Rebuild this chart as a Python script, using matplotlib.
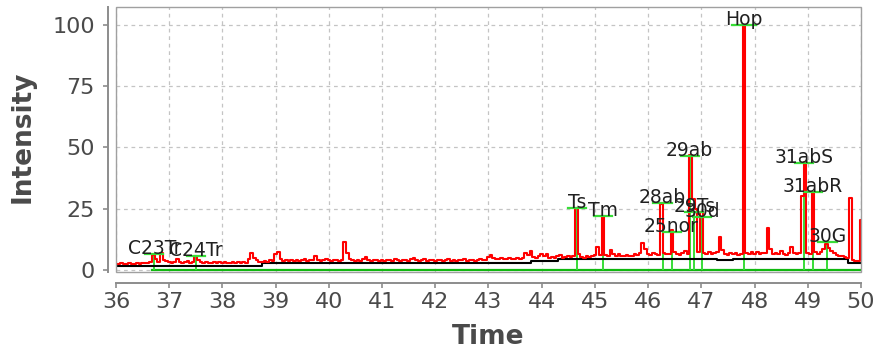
"""Chromatogram (m/z 191 style) with labelled biomarker peaks."""

import numpy as np
import matplotlib.pyplot as plt
from matplotlib.patches import Rectangle

# signal sampled every 0.05 min from 36.00 to 50.00
t_start, t_step = 36.0, 0.05
signal = [
    # 36.00 - 36.95
    2.6, 2.6, 3.0, 2.6, 2.6, 3.0, 2.6, 2.6, 3.0, 2.6, 2.8, 3.0, 2.8, 3.4, 6.2, 4.5, 3.2, 6.8, 4.0, 3.6,
    # 37.00 - 37.95
    3.4, 3.0, 3.2, 4.5, 3.4, 3.0, 3.2, 3.6, 3.0, 3.4, 5.8, 4.0, 3.2, 3.0, 3.4, 3.0, 3.0, 3.2, 3.0, 3.4,
    # 38.00 - 38.95
    3.0, 3.2, 3.0, 3.0, 3.4, 3.0, 3.2, 3.0, 3.2, 3.0, 4.6, 7.0, 5.0, 4.0, 3.4, 3.2, 3.6, 3.4, 4.0, 3.6,
    # 39.00 - 39.95
    6.5, 7.2, 4.4, 3.8, 4.0, 3.8, 4.2, 3.8, 4.0, 3.8, 4.0, 4.4, 3.8, 4.2, 4.0, 5.6, 4.2, 3.8, 4.0, 4.4,
    # 40.00 - 40.95
    4.0, 3.8, 4.2, 4.0, 3.8, 4.0, 11.5, 7.0, 4.4, 4.0, 3.8, 4.2, 3.8, 4.4, 5.2, 4.0, 3.8, 4.0, 4.2, 3.8,
    # 41.00 - 41.95
    4.0, 3.8, 4.2, 4.0, 3.8, 4.4, 4.0, 3.8, 4.0, 4.2, 3.8, 4.6, 5.0, 4.2, 3.8, 4.0, 4.4, 3.8, 4.0, 4.2,
    # 42.00 - 42.95
    3.8, 4.0, 4.2, 3.8, 4.0, 4.4, 3.8, 4.0, 3.8, 4.2, 4.0, 4.4, 3.8, 4.0, 4.2, 3.8, 4.0, 4.6, 4.0, 4.2,
    # 43.00 - 43.95
    5.4, 6.0, 4.8, 4.4, 4.6, 5.0, 4.6, 4.4, 4.8, 4.6, 4.4, 4.8, 4.6, 4.8, 7.0, 6.0, 7.6, 5.4, 4.8, 5.6,
    # 44.00 - 44.95
    6.4, 5.8, 6.6, 5.0, 5.4, 4.8, 5.6, 6.2, 5.0, 5.2, 5.6, 5.2, 5.8, 25.5, 6.4, 5.4, 5.0, 5.6, 5.4, 5.8,
    # 45.00 - 45.95
    6.0, 9.5, 6.0, 22.0, 6.2, 5.6, 8.0, 6.4, 5.8, 6.6, 5.8, 5.6, 6.2, 5.8, 5.6, 6.4, 6.0, 7.0, 11.0, 8.4,
    # 46.00 - 46.95
    6.6, 6.2, 7.0, 6.4, 6.2, 27.0, 6.8, 6.4, 6.6, 16.5, 7.4, 6.4, 6.2, 6.8, 7.6, 6.6, 47.0, 29.0, 25.0, 7.4,
    # 47.00 - 47.95
    23.5, 7.0, 6.4, 7.2, 6.6, 6.8, 7.4, 13.5, 8.0, 6.6, 6.2, 7.0, 6.4, 6.8, 6.2, 6.6, 100.0, 7.0, 6.4, 7.2,
    # 48.00 - 48.95
    6.6, 7.2, 6.4, 7.0, 6.8, 17.0, 8.6, 6.6, 7.0, 6.4, 7.8, 6.6, 6.2, 7.0, 9.6, 7.0, 6.4, 6.8, 30.0, 44.0,
    # 49.00 - 49.95
    7.0, 6.4, 32.0, 7.2, 6.6, 7.4, 8.6, 10.5, 9.0, 7.6, 6.8, 6.2, 5.8, 5.6, 5.2, 4.8, 29.5, 4.0, 3.8, 3.6,
    # 50.00
    20.5,
]

# baseline (black) as steps, each value holds until the next time
base_times = [36.0, 38.75, 43.8, 44.3, 47.3, 47.6, 49.75, 50.0]
base_values = [1.6, 3.0, 3.6, 4.6, 4.0, 4.5, 3.0, 3.0]

# zero line (green)
zero_times = [36.68, 50.0]

# labelled peaks
peak_names = ["C23Tr", "C24Tr", "Ts", "Tm", "28ab", "25nor", "29ab",
              "29Ts", "30d", "Hop", "31abS", "31abR", "30G"]
peak_times = [36.72, 37.50, 44.67, 45.16, 46.27, 46.44, 46.78,
              46.87, 47.02, 47.80, 48.93, 49.10, 49.37]
peak_heights = [6.5, 5.7, 25.3, 22.0, 27.3, 15.5, 46.5,
                23.7, 21.6, 100.0, 43.7, 32.0, 11.4]

RED = "#ff0000"
GREEN = "#10b810"
LIGHT_GREEN = "#38dd38"
AXIS_GREY = "#8c8c8c"
TEXT_GREY = "#4a4a4a"

fig = plt.figure(figsize=(8.77, 3.54), dpi=100)
ax = fig.add_axes([116 / 877, 1 - 272 / 354, 745 / 877, 265 / 354])

times = t_start + t_step * np.arange(len(signal))

ax.set_xlim(36, 50)
ax.set_ylim(-0.8, 107.3)
ax.set_xticks(range(36, 51))
ax.set_yticks([0, 25, 50, 75, 100])
ax.grid(True, color="#c4c4c4", linestyle=(0, (3, 3)), linewidth=0.9)
ax.set_axisbelow(True)

ax.plot(zero_times, [0, 0], color=GREEN, linewidth=1.6, zorder=2)
ax.vlines(peak_times, 0, peak_heights, color=LIGHT_GREEN, linewidth=1.4, zorder=2)
ax.step(base_times, base_values, where="post",
        color="black", linewidth=1.5, zorder=3)
ax.plot(times, signal, drawstyle="steps-mid", color=RED, linewidth=1.5, zorder=4)

for name, t, h in zip(peak_names, peak_times, peak_heights):
    half = 0.22 if name == "Hop" else 0.17
    ax.plot([t - half, t + half], [h, h], color=LIGHT_GREEN, linewidth=1.6, zorder=5)
    ax.text(t, h, name, ha="center", va="baseline", fontsize=13.5,
            color="#202020", zorder=6)

# plot frame plus offset axis lines
for side in ("top", "right"):
    ax.spines[side].set_visible(False)
ax.add_patch(Rectangle((0, 0), 1, 1, transform=ax.transAxes, fill=False,
                       edgecolor="#a0a0a0", linewidth=1.0, clip_on=False, zorder=7))
ax.spines["left"].set_position(("outward", 5.8))
ax.spines["bottom"].set_position(("outward", 7.9))
for side in ("left", "bottom"):
    ax.spines[side].set_color(AXIS_GREY)
    ax.spines[side].set_linewidth(1.4)

ax.tick_params(axis="both", colors=AXIS_GREY, labelcolor=TEXT_GREY,
               labelsize=16, length=3.5, width=1.2)
ax.tick_params(axis="y", pad=6)
ax.tick_params(axis="x", pad=3)

ax.set_xlabel("Time", fontsize=19, fontweight="bold", color=TEXT_GREY)
ax.set_ylabel("Intensity", fontsize=19, fontweight="bold", color=TEXT_GREY)
ax.xaxis.set_label_coords(0.5, -0.245)
ax.xaxis.label.set_va("center")
ax.yaxis.set_label_coords(-0.125, 0.51)
ax.yaxis.label.set_va("center")

fig.savefig("out.png", dpi=100)
plt.close(fig)
